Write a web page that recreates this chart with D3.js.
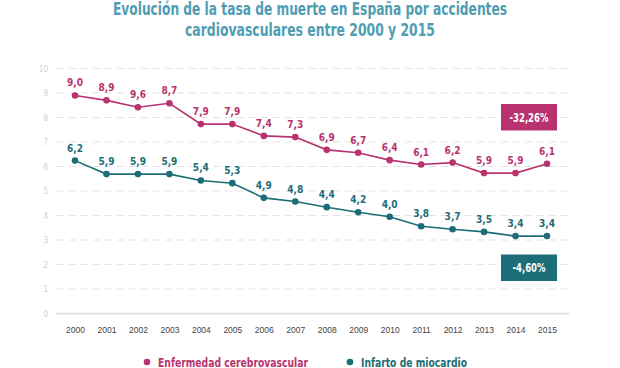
<!DOCTYPE html>
<html>
<head>
<meta charset="utf-8">
<script src="https://cdn.jsdelivr.net/npm/d3@7"></script>
<style>
  html, body { margin: 0; padding: 0; background: #fff; }
  svg { display: block; }
</style>
</head>
<body>
<svg id="chart" width="620" height="368"></svg>
<script>
const years = [2000,2001,2002,2003,2004,2005,2006,2007,2008,2009,2010,2011,2012,2013,2014,2015];
const cerebroValues = [8.9,8.7,8.42,8.58,7.73,7.73,7.25,7.2,6.68,6.56,6.26,6.08,6.16,5.73,5.73,6.11];
const cerebroLabels = ["9,0","8,9","9,6","8,7","7,9","7,9","7,4","7,3","6,9","6,7","6,4","6,1","6,2","5,9","5,9","6,1"];
const infartoValues = [6.24,5.69,5.69,5.69,5.43,5.32,4.72,4.57,4.34,4.13,3.95,3.56,3.44,3.33,3.16,3.16];
const infartoLabels = ["6,2","5,9","5,9","5,9","5,4","5,3","4,9","4,8","4,4","4,2","4,0","3,8","3,7","3,5","3,4","3,4"];
const yTicks = [0,1,2,3,4,5,6,7,8,9,10];
const titleLines = ["Evolución de la tasa de muerte en España por accidentes", "cardiovasculares entre 2000 y 2015"];
const seriesNames = ["Enfermedad cerebrovascular", "Infarto de miocardio"];
const changeLabels = ["-32,26%", "-4,60%"];

const PINK = "#b8326f", TEAL = "#1c6d77";
const svg = d3.select("#chart");
const font = "'DejaVu Sans Condensed', 'Liberation Sans Narrow', 'Roboto', sans-serif";

const x = d3.scalePoint().domain(years).range([75, 547]);
const y = d3.scaleLinear().domain([0, 10]).range([313.5, 68.5]);

// title
const tw = [394, 250];
svg.selectAll("text.title").data(titleLines).join("text")
  .attr("class", "title")
  .attr("x", 310).attr("y", (d, i) => 15 + i * 21)
  .attr("text-anchor", "middle")
  .attr("font-family", font).attr("font-weight", "bold").attr("font-size", 17)
  .attr("fill", "#4f9db2")
  .attr("textLength", (d, i) => tw[i]).attr("lengthAdjust", "spacingAndGlyphs")
  .text(d => d);

// grid
svg.append("g").selectAll("line").data(yTicks.filter(t => t > 0)).join("line")
  .attr("x1", 57).attr("x2", 568)
  .attr("y1", d => y(d)).attr("y2", d => y(d))
  .attr("stroke", "#e2e2e2").attr("stroke-width", 1).attr("stroke-dasharray", "7,5");
svg.append("line").attr("x1", 56).attr("x2", 569).attr("y1", y(0)).attr("y2", y(0))
  .attr("stroke", "#dcdcdc").attr("stroke-width", 1.5);

// y axis labels
const yAxis = d3.axisLeft(y).tickValues(yTicks).tickSize(0).tickPadding(0).tickFormat(d3.format("d"));
const gy = svg.append("g").attr("transform", "translate(48,0)").call(yAxis);
gy.select(".domain").remove();
gy.selectAll("text").attr("font-family", font).attr("font-size", 8).attr("fill", "#cfcfcf");

// x axis labels
const xAxis = d3.axisBottom(x).tickSize(0).tickPadding(0).tickFormat(d3.format("d"));
const gx = svg.append("g").attr("transform", "translate(0,327)").call(xAxis);
gx.select(".domain").remove();
gx.selectAll("text").attr("font-family", "'Liberation Sans', Arial, sans-serif").attr("font-size", 8.5).attr("fill", "#444");

function drawSeries(vals, labels, color) {
  const data = years.map((yr, i) => ({ yr, v: vals[i], l: labels[i] }));
  const line = d3.line().x(d => x(d.yr)).y(d => y(d.v));
  svg.append("path").datum(data).attr("d", line)
    .attr("fill", "none").attr("stroke", color).attr("stroke-width", 1.6);
  svg.append("g").selectAll("circle").data(data).join("circle")
    .attr("cx", d => x(d.yr)).attr("cy", d => y(d.v)).attr("r", 3.3).attr("fill", color);
  svg.append("g").selectAll("text").data(data).join("text")
    .attr("x", d => x(d.yr)).attr("y", d => y(d.v) - 9)
    .attr("text-anchor", "middle")
    .attr("font-family", font).attr("font-weight", "bold").attr("font-size", 11)
    .attr("textLength", 16).attr("lengthAdjust", "spacingAndGlyphs")
    .attr("fill", color).text(d => d.l);
}
drawSeries(cerebroValues, cerebroLabels, PINK);
drawSeries(infartoValues, infartoLabels, TEAL);

// change boxes
const boxes = [{ t: changeLabels[0], c: PINK, y0: 104, w: 39 }, { t: changeLabels[1], c: TEAL, y0: 254.5, w: 33 }];
boxes.forEach(b => {
  svg.append("rect").attr("x", 501).attr("y", b.y0).attr("width", 56).attr("height", 26.5).attr("fill", b.c);
  svg.append("text").attr("x", 529).attr("y", b.y0 + 17.5).attr("text-anchor", "middle")
    .attr("font-family", font).attr("font-weight", "bold").attr("font-size", 12.5)
    .attr("textLength", b.w).attr("lengthAdjust", "spacingAndGlyphs")
    .attr("fill", "#fff").text(b.t);
});

// legend
const legend = [{ n: seriesNames[0], c: PINK, x: 147, w: 150 }, { n: seriesNames[1], c: TEAL, x: 350, w: 106 }];
legend.forEach(l => {
  svg.append("circle").attr("cx", l.x).attr("cy", 362).attr("r", 3.3).attr("fill", l.c);
  svg.append("text").attr("x", l.x + 11).attr("y", 366.5)
    .attr("font-family", font).attr("font-weight", "bold").attr("font-size", 13)
    .attr("fill", l.c).attr("textLength", l.w).attr("lengthAdjust", "spacingAndGlyphs").text(l.n);
});
</script>
</body>
</html>
